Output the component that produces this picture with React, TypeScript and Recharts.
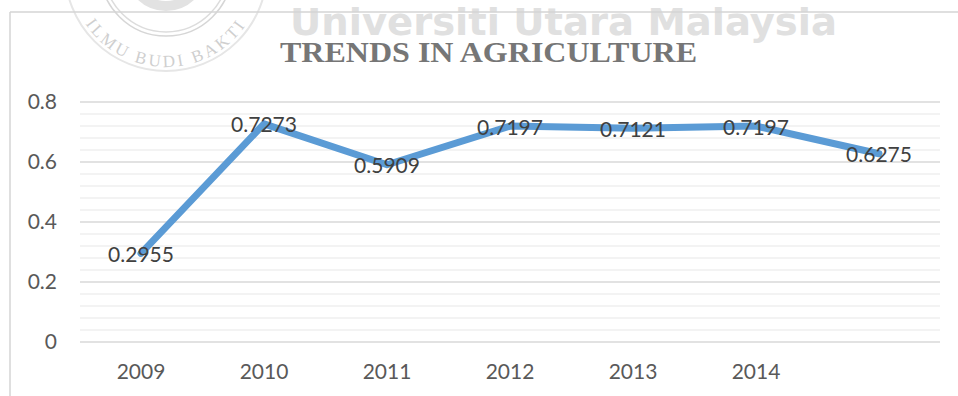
import React from "react";
import {
  LineChart,
  Line,
  XAxis,
  YAxis,
  CartesianGrid,
  LabelList
} from "recharts";

const years = ["2009", "2010", "2011", "2012", "2013", "2014", ""];
const values = [0.2955, 0.7273, 0.5909, 0.7197, 0.7121, 0.7197, 0.6275];
// major ticks every 0.2 (labelled), minor grid lines every 0.04
const yTicks = [0, 0.04, 0.08, 0.12, 0.16, 0.2, 0.24, 0.28, 0.32, 0.36, 0.4, 0.44, 0.48, 0.52, 0.56, 0.6, 0.64, 0.68, 0.72, 0.76, 0.8];

const data = years.map((year, i) => ({ year, value: values[i] }));

const FONT = "Lato, 'Noto Sans', sans-serif";

const isMajor = (v: number) => Math.abs(v * 5 - Math.round(v * 5)) < 1e-6;

// value label drawn centred on the point, like the Excel original
const PointLabel = (props: any) => {
  const { x, y, value } = props;
  return (
    <text
      x={x}
      y={y}
      textAnchor="middle"
      dominantBaseline="central"
      fontFamily={FONT}
      fontSize={21}
      fill="#404040"
    >
      {value}
    </text>
  );
};

const GridLine = (p: any) => (
  <line
    key={p.key}
    x1={p.x1}
    y1={p.y1}
    x2={p.x2}
    y2={p.y2}
    stroke={p.index % 5 === 0 ? "#d9d9d9" : "#efefef"}
    strokeWidth={1.5}
  />
);

function Watermark() {
  const cx = 166;
  const cy = -30;
  const r = 97;
  return (
    <svg
      width={958}
      height={396}
      style={{ position: "absolute", left: 0, top: 0, pointerEvents: "none" }}
    >
      <defs>
        <path
          id="logoArc"
          d={`M ${cx - r} ${cy} A ${r} ${r} 0 0 0 ${cx + r} ${cy}`}
        />
      </defs>
      <circle cx={cx} cy={cy} r={101} fill="none" stroke="#e6e6e6" strokeWidth={2} />
      <circle cx={cx} cy={cy} r={66} fill="none" stroke="#d6d6d6" strokeWidth={1.5} />
      <circle cx={cx} cy={cy} r={62} fill="none" stroke="#dcdcdc" strokeWidth={1.5} />
      <circle cx={cx} cy={cy} r={36} fill="none" stroke="#e2e2e2" strokeWidth={10} />
      <text
        fontFamily="'Liberation Serif', serif"
        fontSize={17}
        fill="#cfcfcf"
        letterSpacing={3}
      >
        <textPath href="#logoArc" startOffset="50%" textAnchor="middle">
          ILMU BUDI BAKTI
        </textPath>
      </text>
      <text
        x={290}
        y={35}
        fontFamily="'DejaVu Sans', sans-serif"
        fontWeight="bold"
        fontSize={38}
        fill="#e0e0e0"
        textLength={547}
        lengthAdjust="spacingAndGlyphs"
      >
        Universiti Utara Malaysia
      </text>
    </svg>
  );
}

function Frame() {
  return (
    <svg
      width={958}
      height={396}
      style={{ position: "absolute", left: 0, top: 0, pointerEvents: "none" }}
    >
      <line x1={10} y1={12} x2={958} y2={12} stroke="#d4d4d4" strokeWidth={1.5} />
      <line x1={10} y1={12} x2={10} y2={396} stroke="#d4d4d4" strokeWidth={1.5} />
      <text
        x={280}
        y={62}
        fontFamily="'Liberation Serif', 'Times New Roman', serif"
        fontWeight="bold"
        fontSize={30}
        fill="#767676"
        textLength={417}
        lengthAdjust="spacingAndGlyphs"
      >
        TRENDS IN AGRICULTURE
      </text>
    </svg>
  );
}

export default function App() {
  return (
    <div
      style={{
        position: "absolute",
        left: 0,
        top: 0,
        width: 958,
        height: 396,
        background: "#ffffff",
        overflow: "hidden"
      }}
    >
      <Watermark />
      <div style={{ position: "absolute", left: 0, top: 0 }}>
        <LineChart
          width={958}
          height={396}
          data={data}
          margin={{ top: 102, right: 18, bottom: 0, left: 20 }}
        >
          <CartesianGrid vertical={false} horizontal={GridLine} />
          <XAxis
            dataKey="year"
            height={54}
            axisLine={false}
            tickLine={false}
            tickSize={0}
            tickMargin={22}
            padding={{ left: 61, right: 61 }}
            interval={0}
            tick={{ fill: "#595959", fontSize: 21, fontFamily: FONT }}
          />
          <YAxis
            width={60}
            domain={[0, 0.8]}
            ticks={yTicks}
            interval={0}
            tickFormatter={(v: number) => (isMajor(v) ? String(v) : "")}
            axisLine={false}
            tickLine={false}
            tickSize={0}
            tickMargin={23}
            tick={{ fill: "#595959", fontSize: 21, fontFamily: FONT }}
          />
          <Line
            type="linear"
            dataKey="value"
            stroke="#5B9BD5"
            strokeWidth={7}
            strokeLinecap="round"
            strokeLinejoin="round"
            dot={false}
            isAnimationActive={false}
          >
            <LabelList dataKey="value" content={PointLabel} />
          </Line>
        </LineChart>
      </div>
      <Frame />
    </div>
  );
}
